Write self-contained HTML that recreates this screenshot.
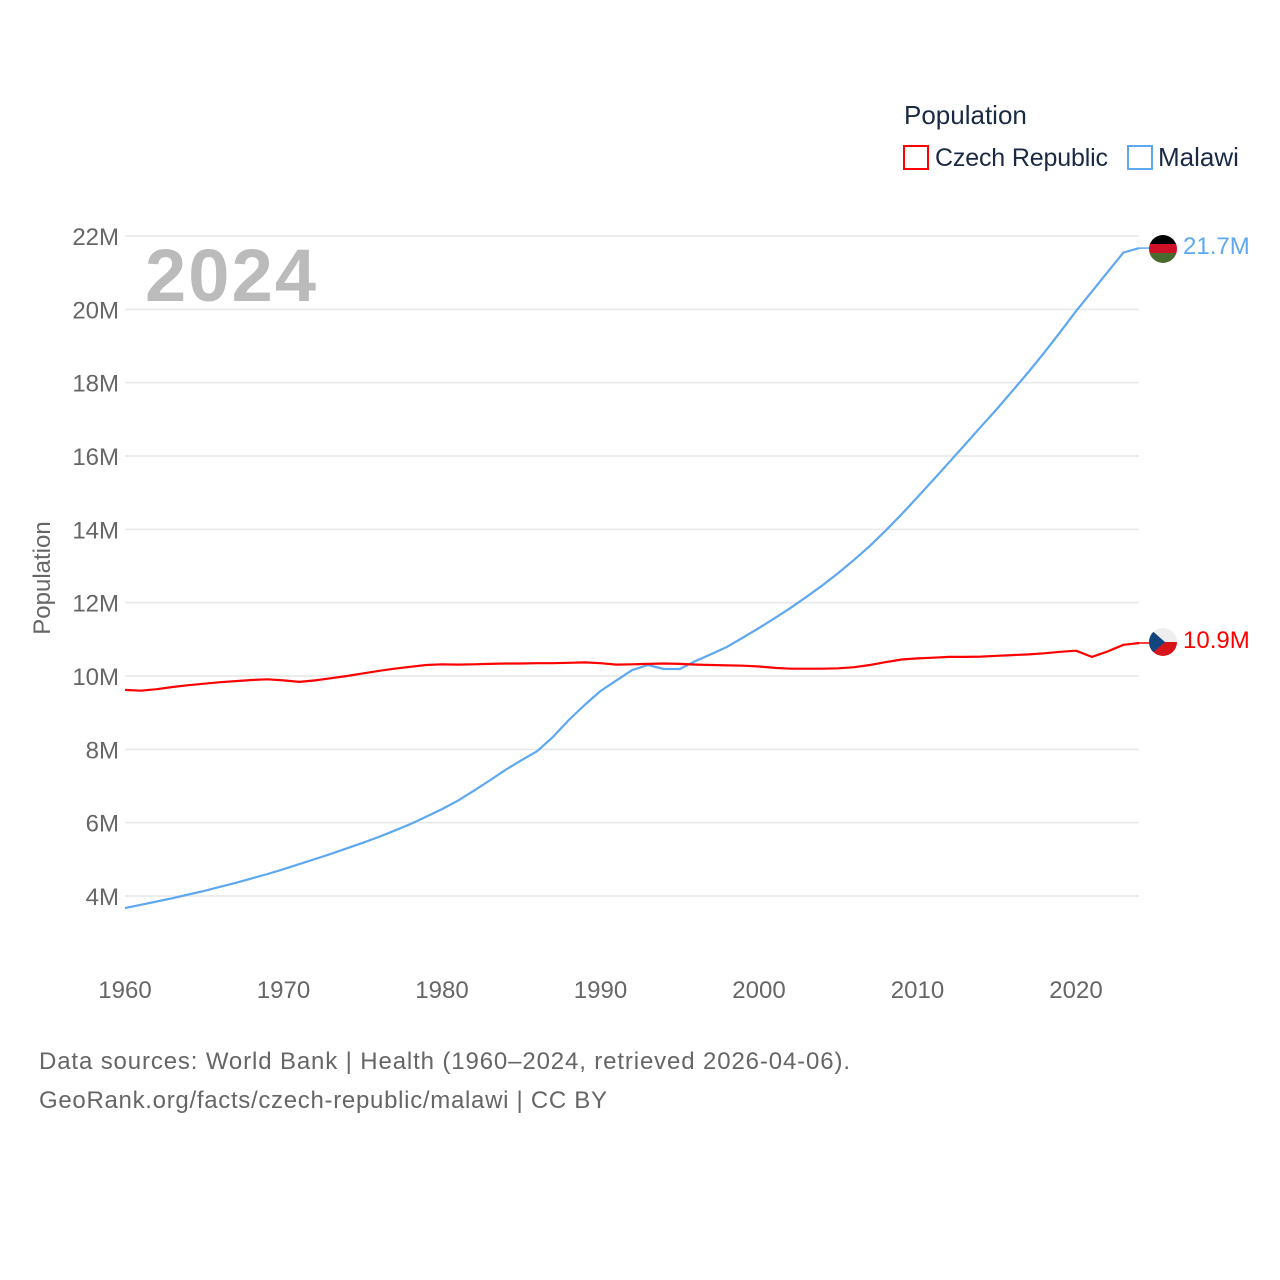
<!DOCTYPE html>
<html><head><meta charset="utf-8"><style>
body{margin:0;background:#fff;width:1280px;height:1280px;overflow:hidden;font-family:"Liberation Sans",sans-serif}
svg{position:absolute;left:0;top:0}
</style></head><body>
<svg id="chart" width="1280" height="1280" font-family="Liberation Sans, sans-serif">
<defs>
<clipPath id="cf1"><circle cx="1163" cy="249" r="14"/></clipPath>
<clipPath id="cf2"><circle cx="1163" cy="642" r="14"/></clipPath>
</defs>
<g id="grid"></g>
<g id="yticks"></g>
<g id="xticks"></g>
<text x="145" y="301" font-size="74" font-weight="bold" fill="#bbbbbb" textLength="171">2024</text>
<text transform="translate(50,578) rotate(-90)" text-anchor="middle" font-size="24" fill="#666">Population</text>
<g id="series"></g>
<g>
<text x="904" y="124" font-size="26" fill="#1a2a44">Population</text>
<g><rect x="904" y="146" width="24" height="23" fill="none" stroke="#ff0000" stroke-width="2"/><text x="935" y="166" font-size="25" fill="#1a2a44" textLength="173">Czech Republic</text></g>
<g><rect x="1128" y="146" width="24" height="23" fill="none" stroke="#5da8f0" stroke-width="2"/><text x="1158" y="166" font-size="26" fill="#1a2a44">Malawi</text></g>
</g>
<g clip-path="url(#cf1)">
<rect x="1149" y="235" width="28" height="10" fill="#000"/><rect x="1149" y="244" width="28" height="10" fill="#ce1126"/><rect x="1149" y="253" width="28" height="10" fill="#4a6b2f"/>
</g>
<g clip-path="url(#cf2)">
<rect x="1149" y="628" width="28" height="14" fill="#eee"/><rect x="1149" y="642" width="28" height="14" fill="#d7141a"/><polygon points="1149,628 1165,642 1149,656" fill="#11457e"/>
</g>
<text x="1183" y="254" font-size="24" fill="#5da8f0">21.7M</text>
<text x="1183" y="648" font-size="24" fill="#ff0000">10.9M</text>
<text x="39" y="1069" font-size="24" fill="#666" textLength="811">Data sources: World Bank | Health (1960–2024, retrieved 2026-04-06).</text>
<text x="39" y="1108" font-size="24" fill="#666" textLength="568">GeoRank.org/facts/czech-republic/malawi | CC BY</text>
</svg>
<script>
const years=[];for(let y=1960;y<=2024;y++)years.push(y);
const czech=[9.62,9.60,9.64,9.70,9.75,9.79,9.83,9.86,9.89,9.91,9.88,9.84,9.88,9.94,10.00,10.07,10.14,10.20,10.25,10.30,10.32,10.31,10.32,10.33,10.34,10.34,10.35,10.35,10.36,10.37,10.35,10.31,10.32,10.33,10.34,10.33,10.31,10.30,10.29,10.28,10.26,10.22,10.20,10.20,10.20,10.21,10.24,10.30,10.38,10.45,10.48,10.50,10.52,10.52,10.53,10.55,10.57,10.59,10.62,10.66,10.69,10.52,10.67,10.85,10.90];
const malawi=[3.67,3.76,3.85,3.94,4.04,4.14,4.25,4.36,4.48,4.60,4.73,4.87,5.01,5.15,5.30,5.45,5.61,5.78,5.96,6.16,6.37,6.60,6.87,7.15,7.44,7.70,7.95,8.34,8.80,9.21,9.59,9.88,10.16,10.30,10.19,10.19,10.41,10.60,10.80,11.05,11.31,11.58,11.86,12.16,12.47,12.81,13.17,13.55,13.97,14.41,14.88,15.35,15.83,16.31,16.80,17.28,17.78,18.29,18.82,19.38,19.95,20.48,21.02,21.55,21.67];
const yTicks=[4,6,8,10,12,14,16,18,20,22];
const xTicks=[1960,1970,1980,1990,2000,2010,2020];
const NS='http://www.w3.org/2000/svg';
const X=y=>125+(y-1960)*(1076-125)/60;
const Y=v=>896-(v-4)*(896-236)/18;
function mk(t,a,p){const e=document.createElementNS(NS,t);for(const k in a)e.setAttribute(k,a[k]);p.appendChild(e);return e;}
const grid=document.getElementById('grid'),yt=document.getElementById('yticks'),xt=document.getElementById('xticks'),ser=document.getElementById('series');
yTicks.forEach(v=>{
 const l=mk('line',{x1:125,x2:1139,y1:Y(v),y2:Y(v),stroke:'#e6e6e6','stroke-width':1.5},grid);
 
 
 const t=mk('text',{x:119,y:Y(v)+9,'text-anchor':'end','font-size':24,fill:'#666'},yt);t.textContent=v+'M';
 
 
});
xTicks.forEach(y=>{
 const t=mk('text',{x:X(y),y:998,'text-anchor':'middle','font-size':24,fill:'#666'},xt);t.textContent=y;
 
 
});
function line(vals,col,name){
 const d=vals.map((v,i)=>(i?'L':'M')+X(years[i]).toFixed(1)+','+Y(v).toFixed(1)).join('');
 const p=mk('path',{d:d,fill:'none',stroke:col,'stroke-width':2.2,'stroke-linejoin':'round'},ser);
 
 
 const last=vals[vals.length-1];
 mk('line',{x1:X(2024),x2:1149,y1:Y(last),y2:Y(last),stroke:col,'stroke-width':1.5},ser);
}
line(malawi,'#5da8f0','malawi-line');
line(czech,'#ff0000','czech-line');
</script>
</body></html>
